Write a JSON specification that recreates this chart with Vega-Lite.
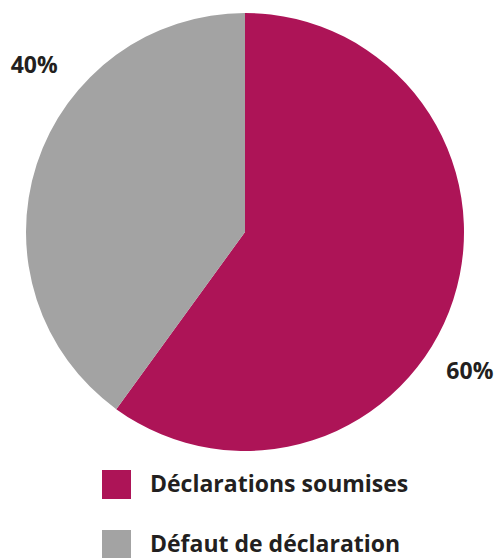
{
  "$schema": "https://vega.github.io/schema/vega-lite/v6.json",
  "width": 490,
  "height": 464,
  "autosize": {"type": "none"},
  "padding": {"left": 0, "top": 0, "right": 8, "bottom": 94},
  "background": "white",
  "config": {"view": {"stroke": null}},
  "data": {
    "values": [
      {"categorie": "Déclarations soumises", "pourcentage": 60, "etiquette": "60%"},
      {"categorie": "Défaut de déclaration", "pourcentage": 40, "etiquette": "40%"}
    ]
  },
  "encoding": {
    "theta": {"field": "pourcentage", "type": "quantitative", "stack": true},
    "order": {"field": "categorie", "type": "nominal", "sort": "ascending"},
    "color": {
      "field": "categorie",
      "type": "nominal",
      "scale": {
        "domain": ["Déclarations soumises", "Défaut de déclaration"],
        "range": ["#AD1457", "#A3A3A3"]
      },
      "legend": {
        "title": null,
        "orient": "none",
        "legendX": 102,
        "legendY": 470,
        "symbolType": "square",
        "symbolSize": 841,
        "symbolStrokeWidth": 0,
        "symbolOpacity": 1,
        "rowPadding": 31,
        "labelOffset": 19,
        "labelFont": "Open Sans",
        "labelFontWeight": "bold",
        "labelFontSize": 23,
        "labelColor": "#231f20",
        "labelLimit": 400
      }
    }
  },
  "layer": [
    {"mark": {"type": "arc", "radius": 219, "stroke": null}},
    {
      "mark": {
        "type": "text",
        "radius": 266,
        "thetaOffset": 0.297,
        "dx": 7,
        "dy": -13,
        "font": "Open Sans",
        "fontWeight": "bold",
        "fontSize": 23,
        "align": "center",
        "baseline": "middle"
      },
      "encoding": {
        "text": {"field": "etiquette", "type": "nominal"},
        "detail": {"field": "categorie", "type": "nominal"},
        "color": {"value": "#231f20"}
      }
    }
  ]
}
